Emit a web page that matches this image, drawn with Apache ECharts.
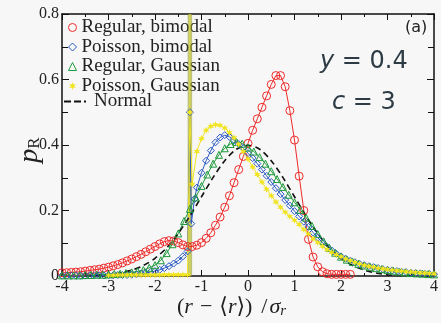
<!DOCTYPE html>
<html><head><meta charset="utf-8">
<script src="https://cdn.jsdelivr.net/npm/echarts@6/dist/echarts.min.js"></script>
<style>html,body{margin:0;padding:0;background:#f7f7f7}#c{width:441px;height:323px}</style>
</head><body><div id="c"></div>
<script>
// ---- data ----
const redX = [-4.0,-3.9,-3.8,-3.7,-3.6,-3.5,-3.4,-3.3,-3.2,-3.1,-3.0,-2.9,-2.8,-2.7,-2.6,-2.5,-2.4,-2.3,-2.2,-2.1,-2.0,-1.9,-1.8,-1.7,-1.6,-1.5,-1.4,-1.3,-1.2,-1.1,-1.0,-0.9,-0.8,-0.7,-0.6,-0.5,-0.4,-0.3,-0.2,-0.1,0.0,0.1,0.2,0.3,0.4,0.5,0.6,0.7,0.8,0.9,1.0,1.1,1.2,1.3,1.4,1.5,1.6,1.7,1.8,1.9,2.0,2.1,2.2];
const redY = [0.010,0.010,0.011,0.012,0.013,0.015,0.017,0.019,0.021,0.024,0.027,0.031,0.035,0.040,0.046,0.052,0.059,0.066,0.074,0.082,0.090,0.098,0.105,0.108,0.107,0.102,0.095,0.090,0.090,0.094,0.102,0.115,0.132,0.155,0.180,0.210,0.245,0.285,0.325,0.365,0.405,0.445,0.480,0.515,0.550,0.585,0.612,0.612,0.578,0.505,0.415,0.305,0.200,0.112,0.058,0.028,0.013,0.007,0.005,0.005,0.005,0.005,0.005];

const blueX = [-4.0,-3.9,-3.8,-3.7,-3.6,-3.5,-3.4,-3.3,-3.2,-3.1,-3.0,-2.9,-2.8,-2.7,-2.6,-2.5,-2.4,-2.3,-2.2,-2.1,-2.0,-1.9,-1.8,-1.7,-1.6,-1.5,-1.4,-1.3,-1.25,-1.22,-1.15,-1.1,-1.0,-0.9,-0.8,-0.7,-0.6,-0.5,-0.4,-0.3,-0.2,-0.1,0.0,0.1,0.2,0.3,0.4,0.5,0.6,0.7,0.8,0.9,1.0,1.1,1.2,1.3,1.4,1.5,1.6,1.7,1.8,1.9,2.0,2.1,2.2,2.3,2.4,2.5,2.6,2.7,2.8,2.9,3.0,3.1,3.2,3.3,3.4,3.5,3.6,3.7,3.8,3.9,4.0];
const blueY = [0.001,0.001,0.001,0.001,0.001,0.001,0.002,0.002,0.002,0.002,0.002,0.002,0.003,0.003,0.003,0.004,0.005,0.007,0.009,0.012,0.015,0.019,0.024,0.030,0.038,0.047,0.060,0.075,0.500,0.160,0.235,0.270,0.315,0.352,0.383,0.408,0.423,0.430,0.425,0.415,0.403,0.390,0.375,0.360,0.343,0.325,0.306,0.287,0.268,0.250,0.232,0.215,0.198,0.182,0.166,0.150,0.133,0.117,0.102,0.089,0.078,0.068,0.060,0.053,0.047,0.042,0.037,0.033,0.030,0.027,0.024,0.021,0.019,0.017,0.015,0.013,0.012,0.010,0.009,0.008,0.007,0.006,0.005];

const greenX = [-4.0,-3.875,-3.75,-3.625,-3.5,-3.375,-3.25,-3.125,-3.0,-2.875,-2.75,-2.625,-2.5,-2.375,-2.25,-2.125,-2.0,-1.875,-1.75,-1.625,-1.5,-1.375,-1.25,-1.125,-1.0,-0.875,-0.75,-0.625,-0.5,-0.375,-0.25,-0.125,0.0,0.125,0.25,0.375,0.5,0.625,0.75,0.875,1.0,1.125,1.25,1.375,1.5,1.625,1.75,1.875,2.0,2.125,2.25,2.375,2.5,2.625,2.75,2.875,3.0,3.125,3.25,3.375,3.5,3.625,3.75,3.875,4.0];
const greenY = [0.002,0.002,0.002,0.002,0.003,0.003,0.004,0.004,0.005,0.006,0.007,0.009,0.011,0.014,0.018,0.025,0.033,0.048,0.070,0.097,0.130,0.168,0.205,0.240,0.275,0.310,0.343,0.370,0.390,0.403,0.409,0.404,0.392,0.380,0.363,0.343,0.320,0.296,0.272,0.248,0.225,0.202,0.178,0.153,0.128,0.106,0.086,0.071,0.059,0.050,0.043,0.037,0.032,0.028,0.024,0.021,0.018,0.016,0.013,0.011,0.009,0.008,0.007,0.006,0.005];

const yellowX = [-3.0,-2.9,-2.8,-2.7,-2.6,-2.5,-2.4,-2.3,-2.2,-2.1,-2.0,-1.9,-1.8,-1.7,-1.6,-1.5,-1.4,-1.3,-1.25,-1.2,-1.1,-1.0,-0.9,-0.8,-0.7,-0.6,-0.5,-0.4,-0.3,-0.2,-0.1,0.0,0.1,0.2,0.3,0.4,0.5,0.6,0.7,0.8,0.9,1.0,1.1,1.2,1.3,1.4,1.5,1.6,1.7,1.8,1.9,2.0,2.1,2.2,2.3,2.4,2.5,2.6,2.7,2.8,2.9,3.0,3.1,3.2,3.3,3.4,3.5,3.6,3.7,3.8,3.9,4.0];
const yellowY = [0.002,0.002,0.003,0.003,0.003,0.003,0.003,0.003,0.003,0.003,0.003,0.003,0.004,0.004,0.004,0.004,0.004,0.004,0.500,0.280,0.380,0.420,0.445,0.457,0.462,0.460,0.452,0.438,0.422,0.402,0.380,0.357,0.333,0.310,0.287,0.265,0.245,0.226,0.210,0.195,0.182,0.170,0.157,0.142,0.128,0.114,0.102,0.091,0.081,0.072,0.065,0.059,0.052,0.047,0.042,0.037,0.033,0.030,0.027,0.024,0.022,0.020,0.018,0.016,0.015,0.013,0.012,0.011,0.010,0.009,0.008,0.007];

const normalX = [-3.5,-3.25,-3.0,-2.75,-2.5,-2.25,-2.0,-1.75,-1.5,-1.25,-1.0,-0.75,-0.5,-0.25,0.0,0.25,0.5,0.75,1.0,1.25,1.5,1.75,2.0,2.25,2.5,2.75,3.0,3.25,3.5];
const normalY = [0.001,0.002,0.004,0.009,0.018,0.032,0.054,0.086,0.130,0.183,0.242,0.301,0.352,0.387,0.399,0.387,0.352,0.301,0.242,0.183,0.130,0.086,0.054,0.032,0.018,0.009,0.004,0.002,0.001];

const spikeX = [-1.25,-1.25];
const spikeY = [0.0,0.8];

const seriesNames = ['Regular, bimodal','Poisson, bimodal','Regular, Gaussian','Poisson, Gaussian','Normal'];
const xTicks = [-4,-3,-2,-1,0,1,2,3,4];
const yTicks = [0,0.2,0.4,0.6,0.8];

// ---- styling ----
const RED='#ee2a2a', BLUE='#2a58c4', GREEN='#1f9a3c', YEL='#f1e41e';
const STAR='path://M10 0 L12 6.54 L18.66 5 L14 10 L18.66 15 L12 13.46 L10 20 L8 13.46 L1.34 15 L6 10 L1.34 5 L8 6.54 Z';
const DASH='path://M0 0 H7 V2 H0 Z M10 0 H17 V2 H10 Z M20 0 H22 V2 H20 Z';
const SERIF='"Liberation Serif", "DejaVu Serif", serif';
const zip=(a,b)=>a.map((v,i)=>[v,b[i]]);

function dataSeries(name,xs,ys,color,symbol,size,filled,z){
  return {name,type:'line',data:zip(xs,ys),symbol,symbolSize:size,showSymbol:true,
    lineStyle:{color,width:1},
    itemStyle:filled?{color,borderWidth:0}:{color:'rgba(0,0,0,0)',borderColor:color,borderWidth:1},
    z:z,animation:false,emphasis:{disabled:true}};
}

const axisCommon = {
  type:'value', axisLine:{show:true,onZero:false,lineStyle:{color:'#111',width:1.5}},
  splitLine:{show:false}, minorTick:{show:true,splitNumber:2,length:3,lineStyle:{color:'#111'}},
  axisTick:{inside:true,length:6,lineStyle:{color:'#111',width:1}}
};

const chart = echarts.init(document.getElementById('c'),null,{renderer:'canvas'});
chart.setOption({
  backgroundColor:'#f7f7f7',
  animation:false,
  grid:{left:62,right:3,top:14,bottom:47},
  xAxis:[
    Object.assign({},axisCommon,{min:xTicks[0],max:xTicks[xTicks.length-1],interval:1,position:'bottom',
      axisLabel:{fontFamily:SERIF,fontSize:16,color:'#222',margin:3}}),
    Object.assign({},axisCommon,{min:xTicks[0],max:xTicks[xTicks.length-1],interval:1,position:'top',axisLabel:{show:false}})
  ],
  yAxis:[
    Object.assign({},axisCommon,{min:yTicks[0],max:yTicks[yTicks.length-1],interval:0.2,position:'left',
      minorTick:{show:true,splitNumber:2,length:6,lineStyle:{color:'#111'}},
      axisTick:{inside:true,length:7,lineStyle:{color:'#111'}},
      axisLabel:{fontFamily:SERIF,fontSize:16,color:'#222',margin:3,formatter:v=>v===0?'0':v.toFixed(1)}}),
    Object.assign({},axisCommon,{min:yTicks[0],max:yTicks[yTicks.length-1],interval:0.2,position:'right',
      minorTick:{show:true,splitNumber:2,length:6,lineStyle:{color:'#111'}},
      axisTick:{inside:true,length:7,lineStyle:{color:'#111'}},axisLabel:{show:false}})
  ],
  legend:[
    {orient:'vertical',left:68,top:18,padding:0,itemWidth:8,itemHeight:8,itemGap:0.5,z:1,
      textStyle:{fontFamily:SERIF,fontSize:19,color:'#222',lineHeight:18},
      data:[
        {name:seriesNames[0],icon:'circle',itemStyle:{color:'rgba(0,0,0,0)',borderColor:RED,borderWidth:1}},
        {name:seriesNames[1],icon:'diamond',itemStyle:{color:'rgba(0,0,0,0)',borderColor:BLUE,borderWidth:1}},
        {name:seriesNames[2],icon:'triangle',itemStyle:{color:'rgba(0,0,0,0)',borderColor:GREEN,borderWidth:1}},
        {name:seriesNames[3],icon:STAR,itemStyle:{color:YEL,borderWidth:0}}
      ]},
    {orient:'vertical',left:64,top:92,padding:0,itemWidth:22,itemHeight:2,z:1,
      textStyle:{fontFamily:SERIF,fontSize:19,color:'#222',lineHeight:18,padding:[0,0,0,3]},
      data:[{name:seriesNames[4],icon:DASH,itemStyle:{color:'#111',borderWidth:0}}]}
  ],
  series:[
    {type:'line',name:'spike-outer',data:zip(spikeX,spikeY),symbol:'none',lineStyle:{color:'rgba(150,156,40,0.6)',width:4.5},z:5,silent:true},
    {type:'line',name:'spike-inner',data:zip(spikeX,spikeY),symbol:'none',lineStyle:{color:'#e2df3a',width:1},z:5,silent:true},
    dataSeries(seriesNames[0],redX,redY,RED,'circle',8,false,6),
    dataSeries(seriesNames[1],blueX,blueY,BLUE,'diamond',7,false,6),
    dataSeries(seriesNames[2],greenX,greenY,GREEN,'triangle',7,false,6),
    dataSeries(seriesNames[3],yellowX,yellowY,YEL,STAR,7,true,6),
    {name:seriesNames[4],type:'line',data:zip(normalX,normalY),symbol:'none',smooth:0.3,
      lineStyle:{color:'#111',width:1.6,type:[6,4]},itemStyle:{color:'#111'},z:6}
  ],
  graphic:[
    {type:'text',left:177,top:296,z:10,style:{
      text:'{t|(}{it|r}{op|−}{t|⟨}{it|r}{t|⟩)}{sl|/}{it|σ}{sub|r}',
      rich:{
        t:{fontFamily:SERIF,fontSize:22,fill:'#222'},
        it:{fontFamily:SERIF,fontSize:22,fontStyle:'italic',fill:'#222'},
        op:{fontFamily:SERIF,fontSize:22,fill:'#222',padding:[0,7,0,7]},
        sl:{fontFamily:SERIF,fontSize:22,fill:'#222',padding:[0,2,0,9]},
        sub:{fontFamily:SERIF,fontSize:15,fontStyle:'italic',fill:'#222',padding:[9,0,0,0]}
      }}},
    {type:'text',x:44,y:150,rotation:Math.PI/2,z:10,style:{
      text:'{it|p}{sub|R}',align:'center',verticalAlign:'bottom',
      rich:{
        it:{fontFamily:SERIF,fontSize:28,fontStyle:'italic',fill:'#222'},
        sub:{fontFamily:SERIF,fontSize:17,fill:'#222',padding:[10,0,0,0]}
      }}},
    {type:'text',left:405,top:20,z:10,style:{text:'(a)',font:'16px "DejaVu Sans"',fill:'#222'}},
    {type:'text',left:320,top:50,z:10,style:{text:'{i|y} = 0.4',font:'24px "DejaVu Sans"',fill:'#2d3b45',
      rich:{i:{fontFamily:'DejaVu Sans',fontSize:24,fontStyle:'italic',fill:'#2d3b45'}}}},
    {type:'text',left:332,top:91,z:10,style:{text:'{i|c} = 3',font:'24px "DejaVu Sans"',fill:'#2d3b45',
      rich:{i:{fontFamily:'DejaVu Sans',fontSize:24,fontStyle:'italic',fill:'#2d3b45'}}}}
  ]
});
</script></body></html>
